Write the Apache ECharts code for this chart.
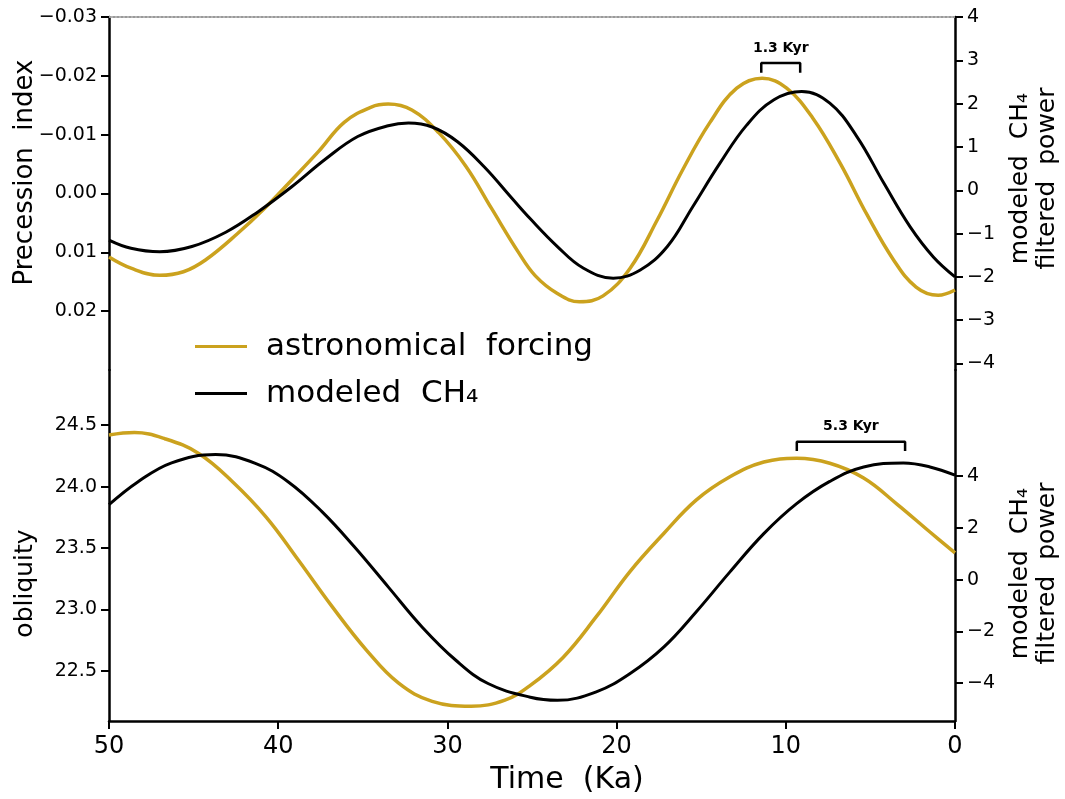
<!DOCTYPE html>
<html>
<head>
<meta charset="utf-8">
<title>precession / obliquity vs modeled CH4</title>
<script src="https://cdn.jsdelivr.net/npm/echarts@6/dist/echarts.min.js"></script>
<style>
  html, body { margin: 0; padding: 0; background: #fff; }
  #main { width: 1065px; height: 799px; }
</style>
</head>
<body>
<div id="main"></div>
<script>
"use strict"

// upper panel: precession index (left axis, inverted) and filtered CH4 (right axis)
const precTime = [50, 48.7, 47.0, 45.6, 44.3, 42.4, 40.8, 39.2, 37.6, 36.1, 34.5, 33.5, 32.1, 30.5, 28.9, 27.4, 25.8, 24.8, 23.5, 22.2, 20.8, 19.2, 17.6, 16.1, 14.5, 12.9, 11.4, 9.95, 8.4, 6.8, 5.2, 3.65, 2.3, 1.0, 0];
const precIndex = [0.0108, 0.0127, 0.0139, 0.0133, 0.0113, 0.0068, 0.0025, -0.0023, -0.0072, -0.0121, -0.0147, -0.0152, -0.0142, -0.0103, -0.0046, 0.0025, 0.0100, 0.0140, 0.0170, 0.0184, 0.0174, 0.0127, 0.0045, -0.0040, -0.0120, -0.0179, -0.0196, -0.0179, -0.0128, -0.0052, 0.0036, 0.0112, 0.0159, 0.0173, 0.0164];

const ch4PrecTime = [50, 48.7, 47.0, 45.1, 43.1, 41.2, 39.2, 37.2, 35.3, 33.5, 32.3, 30.9, 29.4, 27.8, 26.2, 25.1, 23.5, 22.0, 20.2, 18.6, 17.0, 15.5, 13.9, 12.3, 10.7, 9.06, 7.4, 5.8, 4.2, 2.66, 1.28, 0];
const ch4Prec = [-1.15, -1.34, -1.42, -1.30, -0.97, -0.50, 0.08, 0.72, 1.24, 1.49, 1.55, 1.46, 1.12, 0.53, -0.18, -0.66, -1.30, -1.79, -2.03, -1.84, -1.30, -0.38, 0.62, 1.51, 2.09, 2.28, 2.01, 1.24, 0.16, -0.84, -1.54, -2.0];

// lower panel: obliquity (left axis) and filtered CH4 (right axis)
const oblTime = [50, 48.5, 46.7, 44.7, 42.7, 40.7, 38.8, 36.8, 34.8, 32.9, 30.9, 28.6, 26.6, 25.1, 23.15, 21.2, 19.2, 17.2, 15.3, 13.3, 11.3, 9.36, 7.4, 5.4, 3.45, 1.48, 0];
const obliquity = [24.42, 24.44, 24.39, 24.27, 24.04, 23.75, 23.40, 23.02, 22.67, 22.40, 22.25, 22.21, 22.26, 22.38, 22.61, 22.94, 23.31, 23.62, 23.89, 24.08, 24.20, 24.23, 24.19, 24.07, 23.86, 23.63, 23.46];

const ch4OblTime = [50, 48.3, 46.3, 43.7, 41.35, 39.4, 37.4, 35.5, 33.5, 31.5, 29.5, 27.6, 25.1, 23.5, 21.2, 19.2, 17.2, 15.3, 13.3, 11.3, 9.36, 7.4, 5.4, 3.05, 1.48, 0];
const ch4Obl = [2.90, 3.78, 4.52, 4.84, 4.50, 3.78, 2.62, 1.27, -0.28, -1.83, -3.12, -4.02, -4.55, -4.67, -4.34, -3.63, -2.60, -1.25, 0.30, 1.78, 2.94, 3.80, 4.36, 4.51, 4.36, 4.04];

// tick labels
const precTicks = [-0.03, -0.02, -0.01, 0, 0.01, 0.02];
const ch4PrecTicks = [4, 3, 2, 1, 0, -1, -2, -3, -4];
const oblTicks = [22.5, 23, 23.5, 24, 24.5];
const ch4OblTicks = [-4, -2, 0, 2, 4];

// axis extents
const precRange = [-0.03, 0.03];
const ch4PrecRange = [-4.15, 4];
const oblRange = [22.09, 24.95];
const ch4OblRange = [-5.47, 8.11];

// phase lag brackets: [astronomical peak, CH4 peak] in Ka, height on right axis, label
const precLag = [11.45, 9.15];
const precLagY = [2.71, 2.94];
const precLagText = '1.3 Kyr';
const oblLag = [9.35, 2.95];
const oblLagY = [4.98, 5.33];
const oblLagText = '5.3 Kyr';

const seriesNames = ['astronomical  forcing', 'modeled  CH\u2084'];

const FONT = 'DejaVu Sans';
const GOLD = '#CBA21E';
const SMOOTH = 0.4;

function zip(xs, ys) {
    var out = [];
    for (var i = 0; i < xs.length; i++) {
        out.push([xs[i], ys[i]]);
    }
    return out;
}

function bracket(t, y) {
    return [[t[0], y[0]], [t[0], y[1]], [t[1], y[1]], [t[1], y[0]]];
}

function fmt(digits) {
    return function (v) {
        var s = Math.abs(v).toFixed(digits);
        if (v < -1e-9) s = '\u2212' + s;
        return s;
    };
}

function yAxis(grid, pos, range, ticks, digits, name, gap, pad, size, inverse) {
    return {
        type: 'value',
        gridIndex: grid,
        position: pos,
        inverse: !!inverse,
        min: range[0],
        max: range[1],
        name: name,
        nameLocation: 'middle',
        nameGap: gap,
        nameMoveOverlap: false,
        nameTextStyle: { fontFamily: FONT, fontSize: size, color: '#000', lineHeight: 27, padding: pad },
        axisLine: { show: true, onZero: false, lineStyle: { color: '#000', width: 2.5 } },
        axisTick: { show: true, inside: false, length: 8, customValues: ticks, lineStyle: { color: '#000', width: 2 } },
        axisLabel: { show: true, margin: 12, customValues: ticks, formatter: fmt(digits), fontFamily: FONT, fontSize: 19, color: '#000' },
        splitLine: { show: false }
    };
}

var chart = echarts.init(document.getElementById('main'), null, { width: 1065, height: 799 });

var option = {
    animation: false,
    backgroundColor: '#fff',
    textStyle: { fontFamily: FONT, color: '#000' },
    grid: [
        { left: 109, right: 110, top: 17, height: 353, containLabel: false, outerBoundsMode: 'none' },
        { left: 109, right: 110, top: 370, height: 351, containLabel: false, outerBoundsMode: 'none' }
    ],
    legend: {
        orient: 'vertical',
        left: 190,
        top: 326,
        icon: 'rect',
        itemWidth: 52,
        itemHeight: 3,
        itemGap: 16,
        selectedMode: false,
        data: seriesNames,
        textStyle: { fontFamily: FONT, fontSize: 31, color: '#000', padding: [0, 0, 0, 14] }
    },
    xAxis: [
        {
            type: 'value', gridIndex: 0, position: 'top', inverse: true, min: 0, max: 50, interval: 10,
            axisLine: { show: true, onZero: false, lineStyle: { color: '#9a9a9a', width: 2, type: 'dotted' } },
            axisTick: { show: false }, axisLabel: { show: false }, splitLine: { show: false }
        },
        {
            type: 'value', gridIndex: 1, position: 'bottom', inverse: true, min: 0, max: 50, interval: 10,
            name: 'Time  (Ka)', nameLocation: 'middle', nameGap: 44, nameMoveOverlap: false,
            nameTextStyle: { fontFamily: FONT, fontSize: 30, color: '#000', padding: [0, 0, 0, 70] },
            axisLine: { show: true, onZero: false, lineStyle: { color: '#000', width: 2.5 } },
            axisTick: { show: true, length: 8, lineStyle: { color: '#000', width: 2 } },
            axisLabel: { show: true, margin: 14, fontFamily: FONT, fontSize: 24, color: '#000' },
            splitLine: { show: false }
        }
    ],
    yAxis: [
        yAxis(0, 'left', precRange, precTicks, 2, 'Precession  index', 70, [0, 0, 0, 42], 26, true),
        yAxis(0, 'right', ch4PrecRange, ch4PrecTicks, 0, 'modeled  CH\u2084\nfiltered  power', 52, [0, 0, 0, 30], 25),
        yAxis(1, 'left', oblRange, oblTicks, 1, 'obliquity', 70, [0, 76, 0, 0], 25),
        yAxis(1, 'right', ch4OblRange, ch4OblTicks, 0, 'modeled  CH\u2084\nfiltered  power', 52, [0, 56, 0, 0], 25)
    ],
    series: [
        {
            name: seriesNames[0], type: 'line', xAxisIndex: 0, yAxisIndex: 0,
            data: zip(precTime, precIndex), smooth: SMOOTH, symbol: 'none', clip: false,
            lineStyle: { color: GOLD, width: 3.5 }, itemStyle: { color: GOLD }
        },
        {
            name: seriesNames[1], type: 'line', xAxisIndex: 0, yAxisIndex: 1,
            data: zip(ch4PrecTime, ch4Prec), smooth: SMOOTH, symbol: 'none', clip: false,
            lineStyle: { color: '#000', width: 3 }, itemStyle: { color: '#000' }
        },
        {
            name: seriesNames[0], type: 'line', xAxisIndex: 1, yAxisIndex: 2,
            data: zip(oblTime, obliquity), smooth: SMOOTH, symbol: 'none', clip: false,
            lineStyle: { color: GOLD, width: 3.5 }, itemStyle: { color: GOLD }
        },
        {
            name: seriesNames[1], type: 'line', xAxisIndex: 1, yAxisIndex: 3,
            data: zip(ch4OblTime, ch4Obl), smooth: SMOOTH, symbol: 'none', clip: false,
            lineStyle: { color: '#000', width: 3 }, itemStyle: { color: '#000' }
        },
        {
            name: 'lag1', type: 'line', xAxisIndex: 0, yAxisIndex: 1,
            data: bracket(precLag, precLagY), symbol: 'none', clip: false, silent: true,
            lineStyle: { color: '#000', width: 2.5 },
            markPoint: {
                symbol: 'circle', symbolSize: 0,
                label: { show: true, position: 'top', distance: 8, formatter: precLagText, fontFamily: FONT, fontSize: 14, fontWeight: 'bold', color: '#000' },
                data: [{ coord: [(precLag[0] + precLag[1]) / 2, precLagY[1]] }]
            }
        },
        {
            name: 'lag2', type: 'line', xAxisIndex: 1, yAxisIndex: 3,
            data: bracket(oblLag, oblLagY), symbol: 'none', clip: false, silent: true,
            lineStyle: { color: '#000', width: 2.5 },
            markPoint: {
                symbol: 'circle', symbolSize: 0,
                label: { show: true, position: 'top', distance: 8, formatter: oblLagText, fontFamily: FONT, fontSize: 14, fontWeight: 'bold', color: '#000' },
                data: [{ coord: [(oblLag[0] + oblLag[1]) / 2, oblLagY[1]] }]
            }
        }
    ]
};

chart.setOption(option);
console.log('chart ready');
</script>
</body>
</html>
